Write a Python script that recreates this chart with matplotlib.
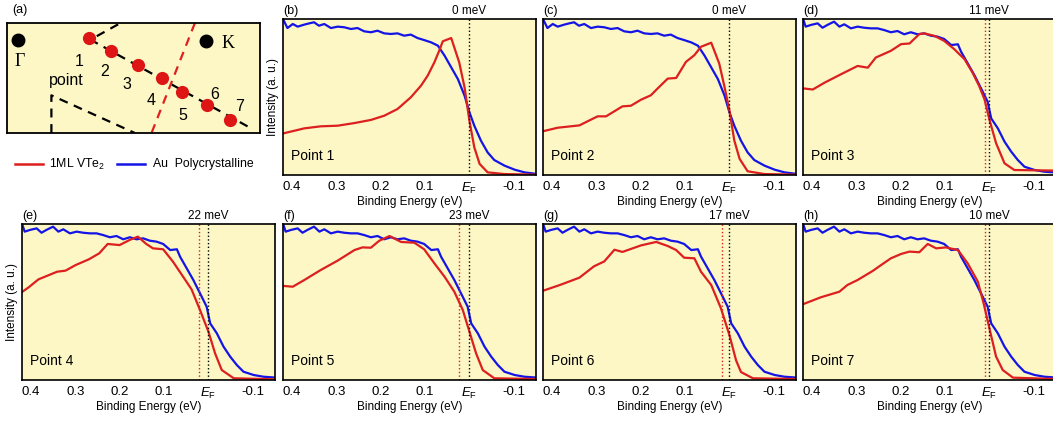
import matplotlib
matplotlib.use('Agg')
import matplotlib.pyplot as plt
from matplotlib.lines import Line2D

plt.rcParams['font.family'] = ['Liberation Sans', 'DejaVu Sans']
plt.rcParams['mathtext.fontset'] = 'custom'
plt.rcParams['mathtext.rm'] = 'Liberation Sans'
plt.rcParams['mathtext.it'] = 'Liberation Sans:italic'

BG = '#FCF7C5'
RED = '#DD1F1F'
BLUE = '#1414E6'

# ---- Au polycrystalline reference (normalised intensity) ----
au_e_bc = [0.419, 0.410, 0.398, 0.387, 0.372, 0.361, 0.350, 0.339, 0.327, 0.312,
           0.297, 0.282, 0.267, 0.252, 0.237, 0.222, 0.207, 0.192, 0.177, 0.162,
           0.147, 0.132, 0.117, 0.102, 0.086, 0.071, 0.056, 0.041, 0.026, 0.011,
           0.000, -0.011, -0.026, -0.041, -0.056, -0.079, -0.102, -0.124, -0.154]
au_i_bc = [0.994, 0.942, 0.968, 0.951, 0.964, 0.972, 0.979, 0.957, 0.968, 0.942,
           0.951, 0.947, 0.936, 0.942, 0.921, 0.915, 0.925, 0.908, 0.904, 0.908,
           0.893, 0.900, 0.878, 0.865, 0.850, 0.829, 0.765, 0.690, 0.615, 0.509,
           0.402, 0.316, 0.220, 0.145, 0.096, 0.060, 0.034, 0.017, 0.006]

au_e_dh = [0.419, 0.414, 0.402, 0.387, 0.376, 0.365, 0.350, 0.338, 0.327, 0.312,
           0.297, 0.282, 0.267, 0.252, 0.237, 0.222, 0.207, 0.192, 0.177, 0.162,
           0.147, 0.132, 0.117, 0.102, 0.086, 0.071, 0.064, 0.049, 0.034, 0.019,
           0.004, -0.004, -0.019, -0.034, -0.049, -0.064, -0.079, -0.102, -0.124,
           -0.154]
au_i_dh = [0.994, 0.951, 0.962, 0.972, 0.944, 0.962, 0.983, 0.951, 0.966, 0.940,
           0.951, 0.944, 0.940, 0.940, 0.929, 0.915, 0.923, 0.902, 0.915, 0.902,
           0.908, 0.893, 0.887, 0.872, 0.833, 0.838, 0.791, 0.716, 0.641, 0.556,
           0.470, 0.363, 0.299, 0.214, 0.150, 0.096, 0.053, 0.032, 0.021, 0.015]

# ---- 1ML VTe2 spectra at points 1..7 ----
e_p1 = [0.419, 0.372, 0.335, 0.297, 0.259, 0.222, 0.192, 0.162, 0.132, 0.109, 0.094,
        0.079, 0.068, 0.060, 0.041, 0.023, 0.011, 0.000, -0.011, -0.023, -0.041,
        -0.079, -0.154]
i_p1 = [0.267, 0.299, 0.312, 0.316, 0.333, 0.353, 0.380, 0.423, 0.498, 0.573, 0.637,
        0.722, 0.797, 0.857, 0.878, 0.722, 0.562, 0.348, 0.177, 0.071, 0.017,
        0.006, 0.002]

e_p2 = [0.419, 0.387, 0.338, 0.297, 0.278, 0.241, 0.222, 0.199, 0.177, 0.162, 0.139,
        0.120, 0.098, 0.079, 0.064, 0.041, 0.023, 0.011, 0.000, -0.011, -0.023,
        -0.041, -0.079, -0.154]
i_p2 = [0.281, 0.303, 0.318, 0.376, 0.376, 0.440, 0.444, 0.483, 0.511, 0.554, 0.618,
        0.622, 0.725, 0.768, 0.822, 0.848, 0.715, 0.564, 0.414, 0.221, 0.103,
        0.024, 0.006, 0.002]

e_p3 = [0.419, 0.398, 0.372, 0.335, 0.297, 0.274, 0.256, 0.222, 0.199, 0.180, 0.158,
        0.147, 0.124, 0.102, 0.079, 0.056, 0.038, 0.023, 0.011, 0.000, -0.015,
        -0.034, -0.056, -0.154]
i_p3 = [0.555, 0.548, 0.591, 0.645, 0.699, 0.688, 0.753, 0.796, 0.839, 0.843, 0.903,
        0.908, 0.892, 0.860, 0.806, 0.742, 0.656, 0.570, 0.484, 0.355, 0.204,
        0.075, 0.032, 0.028]

e_p4 = [0.424, 0.405, 0.383, 0.341, 0.322, 0.299, 0.269, 0.246, 0.227, 0.200, 0.178,
        0.159, 0.140, 0.125, 0.102, 0.080, 0.057, 0.038, 0.019, 0.000, -0.015,
        -0.030, -0.057, -0.154]
i_p4 = [0.556, 0.594, 0.645, 0.694, 0.701, 0.737, 0.774, 0.812, 0.872, 0.865, 0.897,
        0.919, 0.872, 0.844, 0.838, 0.759, 0.662, 0.581, 0.449, 0.310, 0.171,
        0.064, 0.011, 0.004]

e_p5 = [0.419, 0.398, 0.372, 0.335, 0.297, 0.259, 0.241, 0.222, 0.203, 0.180, 0.154,
        0.124, 0.102, 0.079, 0.056, 0.034, 0.015, 0.000, -0.015, -0.030, -0.056,
        -0.154]
i_p5 = [0.603, 0.598, 0.641, 0.705, 0.765, 0.833, 0.850, 0.848, 0.893, 0.923, 0.885,
        0.880, 0.838, 0.748, 0.662, 0.566, 0.449, 0.310, 0.171, 0.064, 0.011,
        0.006]

e_p6 = [0.419, 0.380, 0.338, 0.305, 0.282, 0.259, 0.241, 0.199, 0.165, 0.139, 0.120,
        0.102, 0.079, 0.064, 0.041, 0.019, 0.000, -0.015, -0.026, -0.053, -0.154]
i_p6 = [0.573, 0.611, 0.656, 0.729, 0.760, 0.835, 0.821, 0.863, 0.885, 0.859, 0.833,
        0.784, 0.780, 0.694, 0.609, 0.459, 0.288, 0.126, 0.051, 0.011, 0.006]

e_p7 = [0.419, 0.380, 0.338, 0.320, 0.297, 0.263, 0.244, 0.222, 0.199, 0.180, 0.158,
        0.139, 0.120, 0.098, 0.071, 0.049, 0.026, 0.013, 0.000, -0.015, -0.030,
        -0.053, -0.154]
i_p7 = [0.487, 0.530, 0.566, 0.609, 0.641, 0.699, 0.737, 0.780, 0.808, 0.823, 0.819,
        0.872, 0.844, 0.850, 0.833, 0.748, 0.630, 0.491, 0.331, 0.150, 0.064,
        0.015, 0.006]

panel_letters = ['(b)', '(c)', '(d)', '(e)', '(f)', '(g)', '(h)']
point_names = ['Point 1', 'Point 2', 'Point 3', 'Point 4', 'Point 5', 'Point 6', 'Point 7']
shifts_mev = [0, 0, 11, 22, 23, 17, 10]
vte2_e = [e_p1, e_p2, e_p3, e_p4, e_p5, e_p6, e_p7]
vte2_i = [i_p1, i_p2, i_p3, i_p4, i_p5, i_p6, i_p7]

xticks = [0.4, 0.3, 0.2, 0.1, 0.0, -0.1]
xticklabels = ['0.4', '0.3', '0.2', '0.1', r'$\it{E}_\mathrm{F}$', '-0.1']

# ---- schematic (a): positions in box pixels ----
gamma_xy = (33, 50)
k_xy = (595, 54)
dots_x = [246, 313, 393, 463, 523, 598, 668]
dots_y = [45, 84, 127, 165, 207, 247, 292]
num_labels = ['1', '2', '3', '4', '5', '6', '7']
num_x = [216, 291, 358, 431, 526, 623, 696]
num_y = [115, 145, 185, 232, 277, 215, 250]

W, H = 1053, 422
fig = plt.figure(figsize=(W / 100, H / 100), dpi=100)


def px_axes(left, top, width, height):
    return fig.add_axes([left / W, 1 - (top + height) / H, width / W, height / H])


# panel (a)
axa = px_axes(7, 23, 253, 110)
axa.set_facecolor(BG)
axa.set_xlim(0, 758)
axa.set_ylim(330, 0)
axa.set_xticks([])
axa.set_yticks([])
for s in axa.spines.values():
    s.set_linewidth(1.3)
axa.plot([333, 250, 735], [4, 50, 318], ls=(0, (4, 3)), color='black', lw=1.6)
axa.plot([133, 133, 383], [330, 217, 330], ls=(0, (4, 3)), color='black', lw=1.6)
axa.plot([563, 433], [0, 330], ls=(0, (4, 3)), color='#E02020', lw=1.6)
axa.plot(dots_x, dots_y, 'o', color='#DD1515', ms=9.5, mec='none')
axa.plot(*gamma_xy, 'o', color='black', ms=9)
axa.plot(*k_xy, 'o', color='black', ms=9)
axa.text(38, 117, 'Γ', family='Liberation Serif', fontsize=13, ha='center', va='center')
axa.text(662, 62, 'K', family='Liberation Serif', fontsize=13, ha='center', va='center')
for lab, x, y in zip(num_labels, num_x, num_y):
    axa.text(x, y, lab, fontsize=11.5, ha='center', va='center')
axa.text(178, 172, 'point', fontsize=11.5, ha='center', va='center')
fig.text(12 / W, 1 - 10 / H, '(a)', fontsize=9, ha='left', va='center')

# legend under (a)
fig.add_artist(Line2D([15 / W, 43 / W], [1 - 164 / H] * 2, color=RED, lw=1.8))
fig.text(49 / W, 1 - 164 / H, r'1ML VTe$_2$', fontsize=8.8, va='center')
fig.add_artist(Line2D([117 / W, 145 / W], [1 - 164 / H] * 2, color=BLUE, lw=1.8))
fig.text(153 / W, 1 - 164 / H, 'Au  Polycrystalline', fontsize=8.8, va='center')

# spectra panels
positions = [(283, 19), (543, 19), (803, 19), (22, 224), (283, 224), (543, 224), (803, 224)]
for k, (left, top) in enumerate(positions):
    ax = px_axes(left, top, 253, 156)
    ax.set_facecolor(BG)
    if k < 2:
        ax.plot(au_e_bc, au_i_bc, color=BLUE, lw=1.6)
    else:
        ax.plot(au_e_dh, au_i_dh, color=BLUE, lw=1.6)
    ax.plot(vte2_e[k], vte2_i[k], color=RED, lw=1.6)
    ax.axvline(0, color='black', ls=':', lw=1.0)
    if shifts_mev[k] > 0:
        ax.axvline(shifts_mev[k] / 1000, color=RED, ls=':', lw=1.0)
    ax.set_xlim(0.42, -0.15)
    ax.set_ylim(0, 1)
    ax.set_yticks([])
    ax.set_xticks(xticks)
    ax.set_xticklabels(xticklabels)
    ax.tick_params(axis='x', length=0, pad=4, labelsize=9.5)
    ax.set_xlabel('Binding Energy (eV)', fontsize=8.5, labelpad=0)
    for s in ax.spines.values():
        s.set_linewidth(1.2)
    ax.text(0.0, 1.015, panel_letters[k], transform=ax.transAxes, fontsize=9,
            ha='left', va='bottom')
    ax.text(0.0, 1.015, '%d meV' % shifts_mev[k], transform=ax.get_xaxis_transform(),
            fontsize=8.5, ha='center', va='bottom')
    ax.text(0.03, 0.12, point_names[k], transform=ax.transAxes, fontsize=10,
            ha='left', va='center')
    if k in (0, 3):
        ax.set_ylabel('Intensity (a. u.)', fontsize=8.5, labelpad=3)

fig.savefig('out.png', dpi=100)
